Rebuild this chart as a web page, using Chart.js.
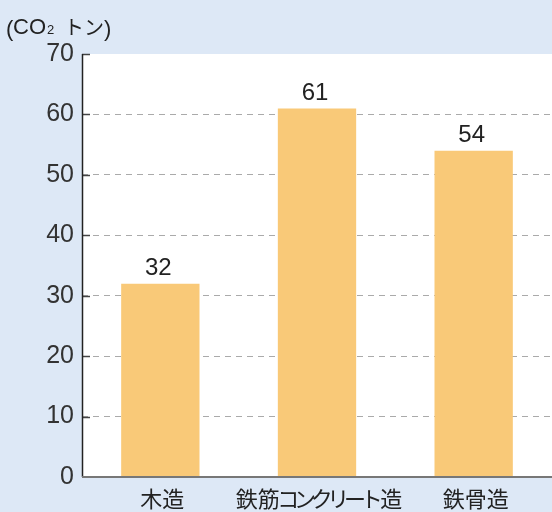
<!DOCTYPE html>
<html>
<head>
<meta charset="utf-8">
<script src="https://cdn.jsdelivr.net/npm/chart.js@4"></script>
<style>
  html, body { margin:0; padding:0; background:#dde8f6; }
  #wrap { position:relative; width:552px; height:512px; }
</style>
</head>
<body>
<div id="wrap"><canvas id="c" width="552" height="512"></canvas></div>
<script>
// ---------- Data ----------
const categories = ['木造', '鉄筋コンクリート造', '鉄骨造'];
const values = [32, 61, 54];
const yTicks = [0, 10, 20, 30, 40, 50, 60, 70];

const JP = "'Noto Sans CJK JP', sans-serif";
const LAT = "'Liberation Sans', Arial, sans-serif";
const barColor = '#f9c978';

// draw a label char by char, kana a bit narrower (proportional look)
function kanaAdvance(ch, w){ return /[\u30A0-\u30FF]/.test(ch) ? w * 0.76 : w; }
function drawJP(ctx, text, cx, y, size){
  ctx.font = size + 'px ' + JP;
  const chars = [...text];
  const adv = chars.map(ch => kanaAdvance(ch, ctx.measureText(ch).width));
  let x = cx - adv.reduce((a, b) => a + b, 0) / 2;
  ctx.textAlign = 'center';
  chars.forEach((ch, i) => { ctx.fillText(ch, x + adv[i] / 2, y); x += adv[i]; });
}

// ---------- Plugins ----------
const panel = {
  id: 'panel',
  beforeDraw(chart){
    const { ctx, chartArea:a } = chart;
    ctx.save();
    ctx.fillStyle = '#dde8f6';
    ctx.fillRect(0, 0, chart.width, chart.height);
    ctx.fillStyle = '#ffffff';
    ctx.fillRect(a.left, a.top, a.right - a.left, a.bottom - a.top);
    ctx.restore();
  },
  afterDatasetsDraw(chart){
    const { ctx } = chart;
    const meta = chart.getDatasetMeta(0);
    ctx.save();
    ctx.fillStyle = '#222';
    ctx.font = '24px ' + LAT;
    ctx.textAlign = 'center';
    ctx.textBaseline = 'middle';
    meta.data.forEach((bar, i) => {
      ctx.fillText(String(values[i]), bar.x - 2, bar.y - 15);
    });
    ctx.restore();
  },
  afterDraw(chart){
    const { ctx, chartArea:a, scales } = chart;
    ctx.save();
    // inner tick marks
    ctx.strokeStyle = '#444';
    ctx.lineWidth = 1.5;
    for (const t of yTicks){
      if (t === 0) continue;
      const y = Math.round(scales.y.getPixelForValue(t)) + 0.5;
      ctx.beginPath(); ctx.moveTo(a.left, y); ctx.lineTo(a.left + 8, y); ctx.stroke();
    }
    // left axis
    ctx.strokeStyle = '#222';
    ctx.lineWidth = 1.5;
    ctx.beginPath(); ctx.moveTo(a.left + 0.5, a.top); ctx.lineTo(a.left + 0.5, a.bottom); ctx.stroke();
    // bottom axis
    ctx.strokeStyle = '#777';
    ctx.lineWidth = 2;
    ctx.beginPath(); ctx.moveTo(a.left, a.bottom); ctx.lineTo(a.right, a.bottom); ctx.stroke();

    // category labels
    ctx.fillStyle = '#222';
    ctx.textBaseline = 'middle';
    categories.forEach((c, i) => drawJP(ctx, c, scales.x.getPixelForValue(i) + 2, 499, 22));

    // unit label (CO2 トン)
    ctx.textBaseline = 'alphabetic';
    ctx.textAlign = 'left';
    const yb = 34;
    ctx.font = '22px ' + LAT;
    ctx.fillText('(', 6, yb + 2);
    ctx.fillText('CO', 13, yb);
    ctx.font = '13px ' + LAT;
    ctx.fillText('2', 47, yb);
    ctx.font = '20px ' + JP;
    ctx.fillText('トン', 64, yb + 1);
    ctx.font = '22px ' + LAT;
    ctx.fillText(')', 104, yb + 2);
    ctx.restore();
  }
};

// ---------- Chart ----------
new Chart(document.getElementById('c'), {
  type: 'bar',
  data: {
    labels: categories,
    datasets: [{
      data: values,
      backgroundColor: barColor,
      borderWidth: 0,
      barPercentage: 0.5,
      categoryPercentage: 1
    }]
  },
  options: {
    responsive: false,
    animation: false,
    layout: { padding: { top: 54, right: 0, left: 0, bottom: 0 } },
    plugins: { legend: { display:false }, tooltip: { enabled:false } },
    scales: {
      x: {
        grid: { display:false, drawTicks:false },
        border: { display:false },
        ticks: { display:false },
        afterFit(s){ s.height = 35; }
      },
      y: {
        min: 0, max: 70,
        afterBuildTicks(s){ s.ticks = yTicks.map(v => ({ value:v })); },
        grid: {
          drawTicks:false,
          color: ctx => (ctx.tick && (ctx.tick.value === 0 || ctx.tick.value === 70)) ? 'rgba(0,0,0,0)' : '#aaaaaa'
        },
        border: { display:false, dash:[6,5] },
        ticks: { color:'#333', font:{ family:LAT, size:25 }, padding:8 },
        afterFit(s){ s.width = 82; }
      }
    }
  },
  plugins: [panel]
});
</script>
</body>
</html>
